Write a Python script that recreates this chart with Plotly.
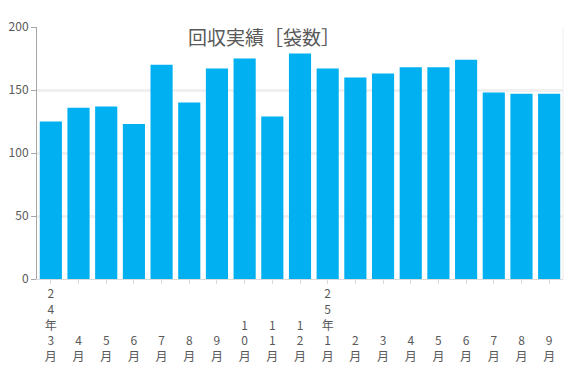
import plotly.graph_objects as go

categories = ["24年3月", "4月", "5月", "6月", "7月", "8月", "9月", "10月", "11月", "12月",
              "25年1月", "2月", "3月", "4月", "5月", "6月", "7月", "8月", "9月"]
values = [125, 136, 137, 123, 170, 140, 167, 175, 129, 179,
          167, 160, 163, 168, 168, 174, 148, 147, 147]
title_text = "回収実績［袋数］"
y_ticks = [0, 50, 100, 150, 200]

max_lines = max(len(c) for c in categories)
tick_text = ["<br>".join(["\u00a0"] * (max_lines - len(c)) + list(c)) for c in categories]

font_family = "Noto Sans CJK JP, Noto Sans, sans-serif"
grey = "#595959"

fig = go.Figure(go.Bar(
    x=list(range(len(categories))),
    y=values,
    marker=dict(color="#00B0F0", line=dict(width=0)),
    hoverinfo="skip",
))

fig.update_layout(
    width=579, height=388,
    margin=dict(l=37, r=16, t=27, b=109, autoexpand=False),
    paper_bgcolor="white", plot_bgcolor="white",
    bargap=0.2,
    showlegend=False,
    font=dict(family=font_family, size=12, color=grey),
    title=dict(text=title_text, x=264 / 579, xanchor="center", y=1 - 38 / 388, yanchor="middle",
               font=dict(size=19, color=grey, family=font_family)),
)

fig.update_xaxes(
    tickmode="array", tickvals=list(range(len(categories))), ticktext=tick_text,
    range=[-0.5, len(categories) - 0.5],
    showline=True, linecolor="#d9d9d9", linewidth=1,
    ticks="outside", tickson="boundaries", ticklen=4, tickcolor="#d9d9d9",
    showgrid=False, tickangle=0, automargin=False,
    tickfont=dict(size=12, color=grey, family=font_family),
)
fig.update_yaxes(
    range=[0, 200], tickvals=y_ticks,
    showline=True, linecolor="#a6a6a6", linewidth=1,
    ticks="outside", ticklen=5, tickcolor="#a6a6a6",
    showgrid=True, gridcolor="#f0f0f0", gridwidth=3,
    zeroline=False, automargin=False,
    tickfont=dict(size=12, color=grey, family=font_family),
)

# faint right border
fig.add_shape(type="line", xref="paper", yref="paper", x0=1, x1=1, y0=0, y1=1,
              line=dict(color="#eeeeee", width=1))

fig.write_html("out.html", config={"displayModeBar": False},
               post_script="document.body.style.margin='0';document.body.style.overflow='hidden';")
